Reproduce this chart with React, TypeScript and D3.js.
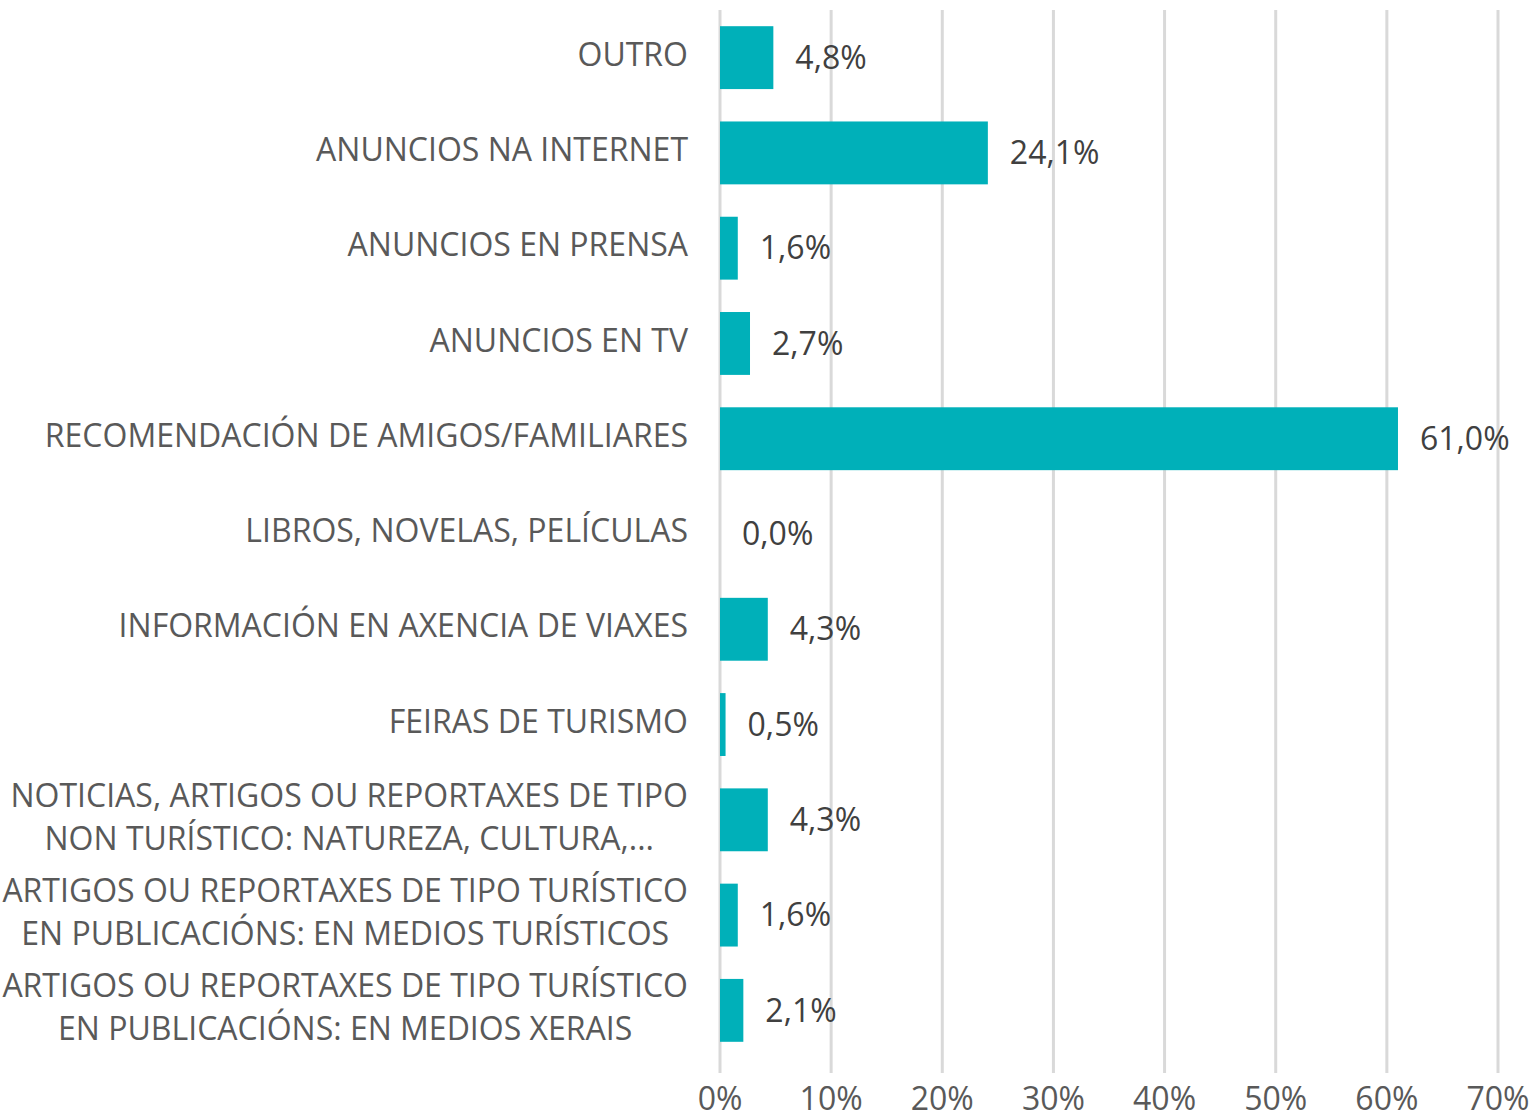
import React from "react";
import * as d3 from "d3";

// categories top to bottom, each line of the label separately
const categories: string[][] = [
  ["OUTRO"],
  ["ANUNCIOS NA INTERNET"],
  ["ANUNCIOS EN PRENSA"],
  ["ANUNCIOS EN TV"],
  ["RECOMENDACIÓN DE AMIGOS/FAMILIARES"],
  ["LIBROS, NOVELAS, PELÍCULAS"],
  ["INFORMACIÓN EN AXENCIA DE VIAXES"],
  ["FEIRAS DE TURISMO"],
  ["NOTICIAS, ARTIGOS OU REPORTAXES DE TIPO", "NON TURÍSTICO: NATUREZA, CULTURA,..."],
  ["ARTIGOS OU REPORTAXES DE TIPO TURÍSTICO", "EN PUBLICACIÓNS: EN MEDIOS TURÍSTICOS"],
  ["ARTIGOS OU REPORTAXES DE TIPO TURÍSTICO", "EN PUBLICACIÓNS: EN MEDIOS XERAIS"],
];
const values: number[] = [4.8, 24.1, 1.6, 2.7, 61.0, 0.0, 4.3, 0.5, 4.3, 1.6, 2.1];
const ticks: number[] = [0, 10, 20, 30, 40, 50, 60, 70];

const width = 1537;
const height = 1119;
const font = "'Open Sans', sans-serif";
const labelSize = 32;

// measure text so multi-line labels can be centred as a block
const ctx = document.createElement("canvas").getContext("2d");
function measure(s: string) {
  if (!ctx) return s.length * labelSize * 0.55;
  ctx.font = `${labelSize}px ${font}`;
  return ctx.measureText(s).width;
}

export default function App() {
  const x = d3.scaleLinear().domain([0, 70]).range([720, 1498]);
  const y = d3
    .scaleBand<number>()
    .domain(d3.range(values.length))
    .range([10, 1058])
    .paddingInner(0.34)
    .paddingOuter(0.17);
  const fmt = (v: number) => v.toFixed(1).replace(".", ",") + "%";
  const labelRight = 688;

  return (
    <svg
      width={width}
      height={height}
      style={{ position: "absolute", left: 0, top: 0, background: "#fff" }}
      fontFamily={font}
    >
      {ticks.map((t) => (
        <line key={t} x1={x(t)} x2={x(t)} y1={10} y2={1073} stroke="#d9d9d9" strokeWidth={3} />
      ))}
      {values.map((v, i) => (
        <rect
          key={i}
          x={x(0)}
          y={y(i)!}
          width={x(v) - x(0)}
          height={y.bandwidth()}
          fill="#00b0b9"
        />
      ))}
      {values.map((v, i) => (
        <text
          key={"v" + i}
          x={x(v) + 22}
          y={y(i)! + y.bandwidth() / 2}
          dy="0.35em"
          fontSize={32}
          fill="#404040"
        >
          {fmt(v)}
        </text>
      ))}
      {categories.map((lines, i) => {
        const cy = y(i)! + y.bandwidth() / 2 - 3;
        const lh = 43;
        const multi = lines.length > 1;
        const maxW = d3.max(lines, measure) || 0;
        const lx = multi ? labelRight - maxW / 2 : labelRight;
        return (
          <text
            key={"c" + i}
            textAnchor={multi ? "middle" : "end"}
            fontSize={labelSize}
            fill="#595959"
          >
            {lines.map((l, j) => (
              <tspan key={j} x={lx} y={cy + (j - (lines.length - 1) / 2) * lh} dy="0.35em">
                {l}
              </tspan>
            ))}
          </text>
        );
      })}
      {ticks.map((t) => (
        <text
          key={"t" + t}
          x={x(t)}
          y={1099}
          dy="0.35em"
          textAnchor="middle"
          fontSize={32}
          fill="#595959"
        >
          {t + "%"}
        </text>
      ))}
    </svg>
  );
}
